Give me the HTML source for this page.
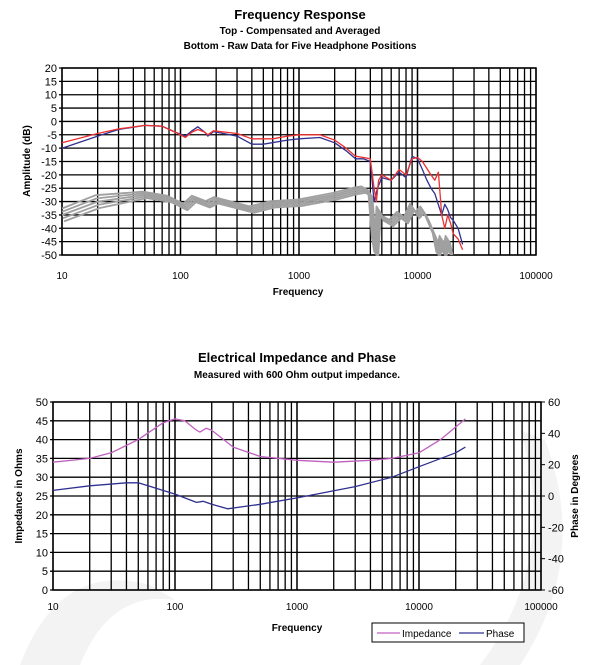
<!DOCTYPE html><html><head><style>body{margin:0;background:#fff}svg{display:block;font-family:"Liberation Sans",Arial,sans-serif}</style></head><body>
<svg id="s" width="600" height="665" xmlns="http://www.w3.org/2000/svg">
<g fill="#f3f3f3"><path d="M20 665 Q60 560 150 585 L175 600 Q110 590 80 665Z"/><path d="M480 665 Q560 560 520 430 L545 440 Q590 560 520 665Z"/></g>
<g font-weight="bold" text-anchor="middle" fill="#000">
<text x="300" y="19" font-size="13">Frequency Response</text>
<text x="300" y="34" font-size="10">Top -  Compensated and Averaged</text>
<text x="300" y="49" font-size="10">Bottom - Raw Data for Five Headphone Positions</text>
<text x="298" y="295" font-size="10">Frequency</text>
<text x="297" y="362" font-size="13">Electrical Impedance and Phase</text>
<text x="297" y="378" font-size="10">Measured with 600 Ohm output impedance.</text>
<text x="297" y="631" font-size="10">Frequency</text>
<text transform="translate(30,161) rotate(-90)" font-size="10">Amplitude (dB)</text>
<text transform="translate(22,496) rotate(-90)" font-size="10">Impedance in Ohms</text>
<text transform="translate(578,496) rotate(-90)" font-size="10">Phase in Degrees</text>
</g>
<g id="g"></g>
<rect x="372" y="623" width="152" height="19" fill="#fff" stroke="#000"/>
<line x1="377" y1="633" x2="400" y2="633" stroke="#c060c0" stroke-width="1.3"/>
<text x="402" y="637" font-size="10">Impedance</text>
<line x1="459" y1="633" x2="484" y2="633" stroke="#303090" stroke-width="1.3"/>
<text x="486" y="637" font-size="10">Phase</text>
</svg>
<script>
const g=document.getElementById('g');let h='';
function chart(x0,x1,y0,y1,nY,ylabs,fx){
 const dw=(x1-x0)/4;
 for(let d=0;d<4;d++)for(let k=1;k<=10;k++){const x=x0+dw*(d+Math.log10(k));h+=`<line x1="${x}" y1="${y0}" x2="${x}" y2="${y1}" stroke="#000" stroke-width="1.3"/>`;}
 for(let i=0;i<=nY;i++){const y=y0+(y1-y0)*i/nY;h+=`<line x1="${x0-3}" y1="${y}" x2="${x1}" y2="${y}" stroke="#000" stroke-width="1.3"/>`;
  h+=`<text x="${x0-5}" y="${y+4}" font-size="11" text-anchor="end">${ylabs[i]}</text>`;}
 h+=`<rect x="${x0}" y="${y0}" width="${x1-x0}" height="${y1-y0}" fill="none" stroke="#000" stroke-width="1.5"/>`;
 ['10','100','1000','10000','100000'].forEach((t,i)=>{h+=`<text x="${x0+dw*i}" y="${fx}" font-size="10" text-anchor="middle">${t}</text>`;});
}
chart(62,536,68,255,14,[20,15,10,5,0,-5,-10,-15,-20,-25,-30,-35,-40,-45,-50],279);
chart(53,541,402,590,10,[50,45,40,35,30,25,20,15,10,5,0],610);
for(let i=0;i<=6;i++){const y=402+188*i/6;h+=`<line x1="541" y1="${y}" x2="545" y2="${y}" stroke="#000"/><text x="548" y="${y+4}" font-size="11">${60-20*i}</text>`;}
function line(pts,fx,fy,col,w,off=0){h+=`<polyline fill="none" stroke="${col}" stroke-width="${w}" stroke-linejoin="round" points="${pts.map(p=>fx(p[0]).toFixed(1)+','+fy(p[1]+off).toFixed(1)).join(' ')}"/>`;}
const tx=f=>62+118.5*(Math.log10(Math.max(10,f))-1), ty=v=>Math.min(255,68+(20-v)/5*13.36);
const gray=[[10,-35],[20,-30],[50,-27.5],[80,-29],[110,-32],[130,-29],[170,-31],[200,-29.5],[400,-33],[600,-31],[1000,-30.5],[2000,-28],[3000,-26],[3500,-25.5],[4000,-27],[4300,-45],[4500,-50],[4700,-33],[5000,-36],[6000,-38],[7000,-35],[8000,-37],[9000,-32],[10000,-35],[11000,-33],[12000,-36],[14000,-43],[15000,-50],[16000,-44],[17000,-50],[18000,-44],[19000,-50]];
[-1.2,-0.6,0,0.6,1.2].forEach((o,i)=>line(gray.map(p=>[p[0]*(1+0.02*(i-2)),p[1]-(p[0]<40?o*2:o)]),tx,ty,'#a0a0a0',1.8));
line([[10,-10],[20,-5.5],[30,-3],[50,-1.5],[70,-1.8],[90,-4],[110,-5.5],[125,-3.5],[140,-2],[160,-4],[170,-5.5],[190,-3.8],[300,-5.5],[400,-8.5],[500,-8.5],[800,-7],[1000,-6.5],[1500,-6],[2000,-8],[2500,-11],[3000,-14],[3500,-14],[4000,-15],[4300,-30],[4600,-25],[5000,-21],[6000,-22],[7000,-19],[8000,-21],[9000,-13],[10000,-14],[11000,-18],[12000,-22],[13000,-25],[14000,-27],[16000,-35],[17000,-31],[18000,-33],[19000,-36],[20000,-37],[22000,-40],[24000,-46]],tx,ty,'#303090',1.3);
line([[10,-8],[20,-4.5],[30,-2.8],[50,-1.5],[70,-1.8],[90,-4],[110,-6],[125,-4],[140,-3],[160,-4],[170,-5],[190,-3.5],[300,-4.5],[400,-6.5],[600,-6.5],[800,-5.5],[1000,-5],[1500,-5],[2000,-7],[2500,-10],[3000,-13],[3500,-13.5],[4000,-14],[4300,-25],[4500,-30],[4700,-22],[5000,-20],[6000,-22],[7000,-18],[8000,-20],[9000,-14],[10000,-13.5],[11000,-15],[13000,-20],[14000,-22],[15000,-19],[16000,-35],[17000,-40],[18000,-35],[19000,-38],[20000,-42],[22000,-44],[24000,-48]],tx,ty,'#ee3030',1.3);
const bx=f=>53+122*(Math.log10(f)-1), by=v=>590-v*3.76;
line([[10,34],[20,35],[30,36.5],[50,40],[80,44.5],[100,45.5],[120,45],[150,42.5],[160,42],[180,43],[200,42.5],[300,38],[500,35.5],[1000,34.5],[2000,34],[4000,34.5],[6000,35],[10000,36.5],[15000,40],[24000,45.5]],bx,by,'#c060c0',1.3);
line([[10,26.5],[20,27.7],[40,28.5],[50,28.5],[100,25.5],[150,23.3],[170,23.6],[200,22.8],[270,21.6],[500,22.8],[1000,24.5],[3000,27.5],[6000,30],[10000,32.8],[20000,36.5],[24000,38]],bx,by,'#303090',1.3);
g.innerHTML=h;
</script></body></html>
